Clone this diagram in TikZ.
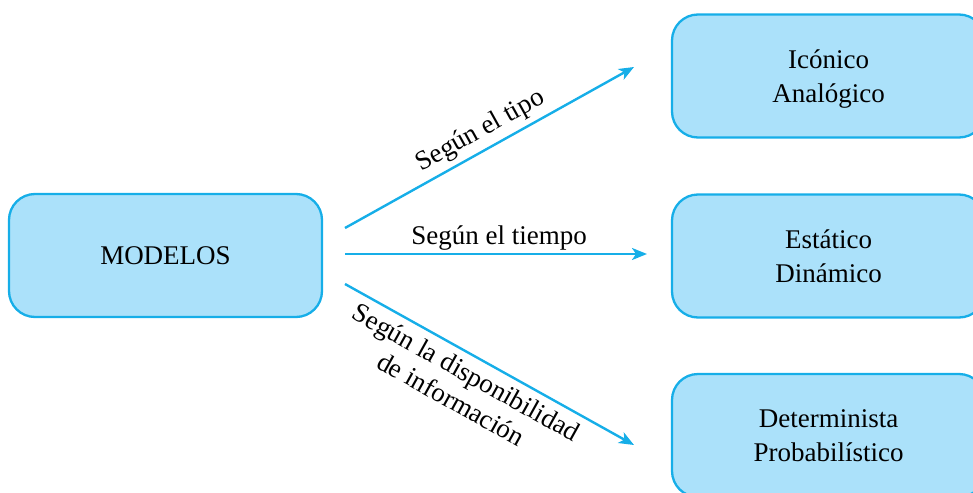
\documentclass[tikz,border=0pt]{standalone}
\usepackage{fontspec}
\setmainfont{Liberation Serif}
\usetikzlibrary{arrows.meta}
\definecolor{lineblue}{RGB}{22,174,232}
\definecolor{fillblue}{RGB}{171,225,250}
\tikzset{
  box/.style={draw=lineblue, line width=2.3pt, fill=fillblue, rounded corners=26pt,
    minimum width=313pt, minimum height=123pt, align=center, text depth=0pt,
    font=\fontsize{27}{34}\selectfont, text=black},
  conn/.style={draw=lineblue, line width=2.4pt, -{Stealth[length=15pt,width=12pt,inset=4pt]}},
  lbl/.style={font=\fontsize{27}{31}\selectfont, text=black, align=center}
}
\begin{document}
\begin{tikzpicture}[x=1pt,y=-1pt]
\useasboundingbox (0,0) rectangle (973,492);
\clip (0,0) rectangle (973,492);
\node[box] (modelos) at (165.5,255.5) {MODELOS};
\node[box] (tipo) at (828.5,76) {Icónico\\Analógico};
\node[box] (tiempo) at (828.5,256) {Estático\\Dinámico};
\node[box] (info) at (828.5,435.5) {Determinista\\Probabilístico};
\coordinate (s1) at (345,228);
\coordinate (e1) at (634,67);
\coordinate (s2) at (345,254);
\coordinate (e2) at (647,254);
\coordinate (s3) at (345,284);
\coordinate (e3) at (634,445);
\draw[conn] (s1) -- node[lbl, sloped, above, pos=0.5, inner sep=5pt] {Según el tipo} (e1);
\draw[conn] (s2) -- node[lbl, above, pos=0.51, inner sep=2pt] {Según el tiempo} (e2);
\draw[conn] (s3) -- node[lbl, sloped, below, pos=0.45, inner sep=7pt] {Según la disponibilidad\\de información} (e3);
\end{tikzpicture}
\end{document}
